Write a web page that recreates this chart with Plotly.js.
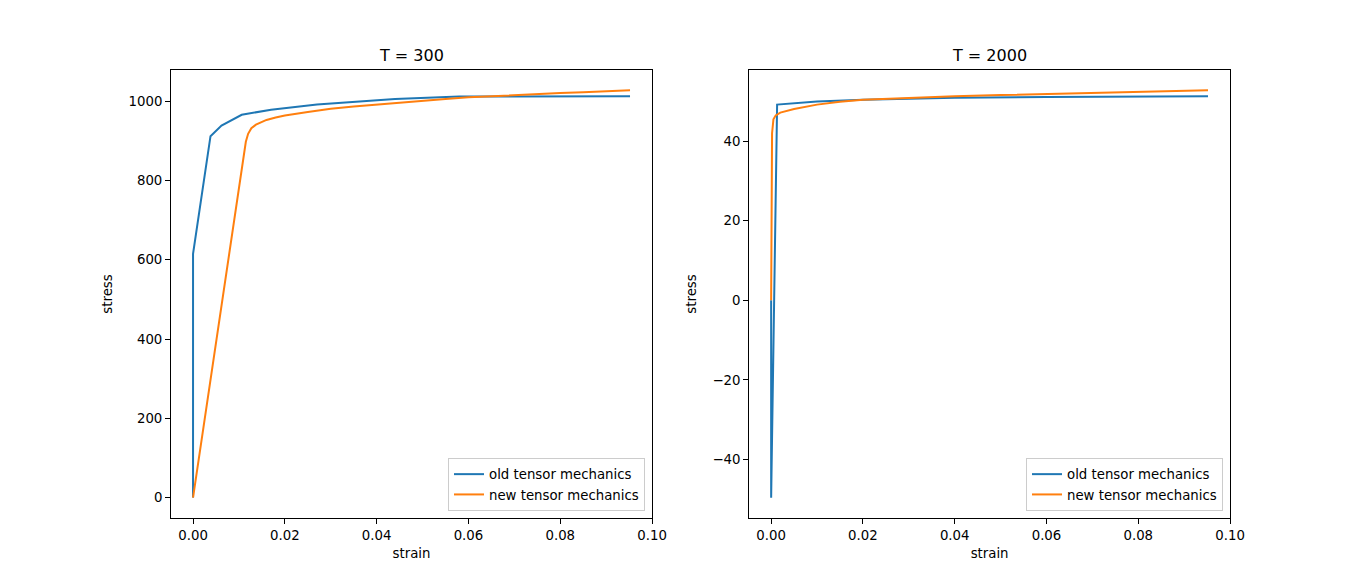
<!DOCTYPE html>
<html>
<head>
<meta charset="utf-8">
<script src="https://cdn.plot.ly/plotly-3.0.1.min.js"></script>
<style>
  html, body { margin: 0; padding: 0; background: #fff; }
  #divPlot { width: 1367px; height: 582px; }
</style>
</head>
<body>
<div id="divPlot"></div>
<script>
/* T = 300 : old tensor mechanics */
var oldStrain300 = [0, 0, 0.0038, 0.0062, 0.0106, 0.017, 0.027, 0.044, 0.058, 0.0952];
var oldStress300 = [0, 615, 912, 939, 966, 979, 992, 1006, 1012, 1013];

/* T = 300 : new tensor mechanics */
var newStrain300 = [0, 0.0115, 0.0120, 0.0127, 0.0137, 0.015, 0.016, 0.018, 0.020, 0.025,
                    0.030, 0.035, 0.040, 0.045, 0.050, 0.055, 0.060, 0.065, 0.070, 0.075,
                    0.080, 0.085, 0.090, 0.0952];
var newStress300 = [0, 898, 918, 932, 941, 948, 953, 959, 964, 973,
                    981, 987, 992, 997, 1002, 1006, 1010, 1013, 1016, 1019,
                    1021, 1023, 1026, 1028];

/* T = 2000 : old tensor mechanics */
var oldStrain2000 = [0, 0, 0.0013, 0.005, 0.01, 0.02, 0.03, 0.04, 0.06, 0.08, 0.0952];
var oldStress2000 = [0, -49.6, 49.2, 49.6, 50.0, 50.4, 50.7, 50.9, 51.1, 51.25, 51.3];

/* T = 2000 : new tensor mechanics */
var newStrain2000 = [0, 0.0002, 0.0005, 0.001, 0.002, 0.005, 0.01, 0.015, 0.02, 0.03,
                     0.04, 0.05, 0.06, 0.07, 0.08, 0.0952];
var newStress2000 = [0, 42, 45.5, 46.5, 47.2, 48.1, 49.2, 49.9, 50.4, 50.9,
                     51.3, 51.6, 51.9, 52.2, 52.45, 52.8];

var blue = '#1f77b4', orange = '#ff7f0e';
var font = {family: 'DejaVu Sans', size: 13.3, color: '#000'};

var traces = [
  {x: oldStrain300, y: oldStress300, type: 'scatter', mode: 'lines', name: 'old tensor mechanics',
   line: {color: blue, width: 2}, xaxis: 'x', yaxis: 'y', legend: 'legend'},
  {x: newStrain300, y: newStress300, type: 'scatter', mode: 'lines', name: 'new tensor mechanics',
   line: {color: orange, width: 2}, xaxis: 'x', yaxis: 'y', legend: 'legend'},
  {x: oldStrain2000, y: oldStress2000, type: 'scatter', mode: 'lines', name: 'old tensor mechanics',
   line: {color: blue, width: 2}, xaxis: 'x2', yaxis: 'y2', legend: 'legend2'},
  {x: newStrain2000, y: newStress2000, type: 'scatter', mode: 'lines', name: 'new tensor mechanics',
   line: {color: orange, width: 2}, xaxis: 'x2', yaxis: 'y2', legend: 'legend2'}
];

function axis(extra) {
  var a = {
    showline: true, mirror: true, linecolor: '#000', linewidth: 1,
    ticks: 'outside', ticklen: 5, tickwidth: 1, tickcolor: '#000',
    showgrid: false, zeroline: false, tickfont: font, automargin: false
  };
  for (var k in extra) a[k] = extra[k];
  return a;
}

var legendStyle = {
  bgcolor: 'rgba(255,255,255,0.8)', bordercolor: '#cccccc', borderwidth: 1,
  font: font, xanchor: 'right', yanchor: 'bottom', tracegroupgap: 0,
  itemwidth: 30
};

var layout = {
  width: 1367, height: 582,
  margin: {l: 0, r: 0, t: 0, b: 0},
  paper_bgcolor: '#fff', plot_bgcolor: '#fff',
  showlegend: true,
  font: font,
  xaxis: axis({domain: [0.1251, 0.477], range: [-0.0048, 0.1], tickvals: [0, 0.02, 0.04, 0.06, 0.08, 0.10],
               tickformat: '.2f', anchor: 'y',
               title: {text: 'strain', font: font, standoff: 6}}),
  yaxis: axis({domain: [0.11, 0.8797], range: [-51.4, 1079], dtick: 200, anchor: 'x',
               title: {text: 'stress', font: font, standoff: 12}}),
  xaxis2: axis({domain: [0.548, 0.8998], range: [-0.0048, 0.1], tickvals: [0, 0.02, 0.04, 0.06, 0.08, 0.10],
                tickformat: '.2f', anchor: 'y2',
                title: {text: 'strain', font: font, standoff: 6}}),
  yaxis2: axis({domain: [0.11, 0.8797], range: [-54.7, 57.9], dtick: 20, anchor: 'x2',
                title: {text: 'stress', font: font, standoff: 12}}),
  legend: Object.assign({x: 645 / 1367, y: (582 - 511) / 582}, legendStyle),
  legend2: Object.assign({x: 1223 / 1367, y: (582 - 511) / 582}, legendStyle),
  annotations: [
    {text: 'T = 300', xref: 'paper', yref: 'paper', x: (171 + 652) / 2 / 1367, y: (582 - 56) / 582,
     showarrow: false, font: {family: 'DejaVu Sans', size: 16, color: '#000'}, xanchor: 'center', yanchor: 'middle'},
    {text: 'T = 2000', xref: 'paper', yref: 'paper', x: (749 + 1230) / 2 / 1367, y: (582 - 56) / 582,
     showarrow: false, font: {family: 'DejaVu Sans', size: 16, color: '#000'}, xanchor: 'center', yanchor: 'middle'}
  ]
};

Plotly.newPlot('divPlot', traces, layout, {displayModeBar: false, staticPlot: true});
</script>
</body>
</html>
